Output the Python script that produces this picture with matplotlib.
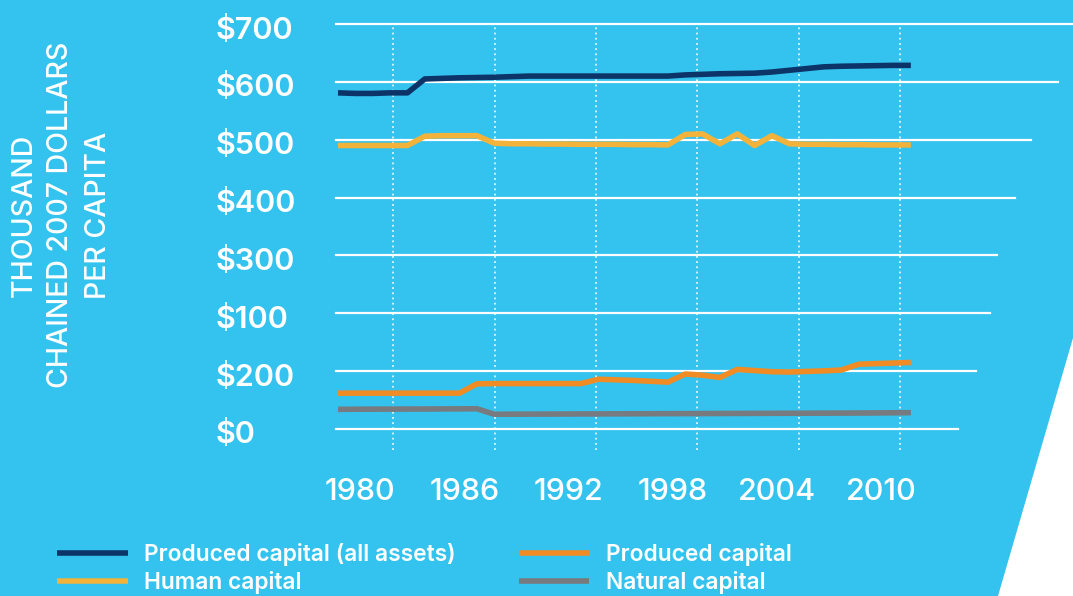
import matplotlib.pyplot as plt
import matplotlib.transforms as mtransforms
from matplotlib.patches import Polygon
import numpy as np

# data (thousand chained 2007 dollars per capita)
years = np.arange(1979, 2013)
all_assets = [581, 580, 580, 581, 581, 605, 606, 607, 607.5, 608, 609, 610,
              610, 610, 610, 610, 610, 610, 610, 610, 612, 613, 614, 614.5,
              615, 617, 620, 623, 626, 627, 627.5, 628, 628.5, 628.5]
human = [490, 490, 490, 490, 490, 506, 507, 507, 507, 494, 493, 493,
         492.5, 492.5, 492, 492, 492, 491.5, 491.5, 491, 509, 510, 493, 510,
         490, 507, 493, 492, 492, 491.5, 491.5, 491, 491, 491]
produced = [62, 62, 62, 62, 62, 62, 62, 62, 78, 78.5, 78.5, 78.5,
            78.5, 78.5, 78.5, 86, 85, 84, 82.5, 81, 95, 93, 89, 103,
            101, 99, 98.5, 99.5, 100.5, 102, 112, 113, 114, 115]
natural = [34, 34.2, 34.3, 34.4, 34.5, 34.6, 34.7, 34.8, 35, 25.5, 25.6, 25.7,
           25.8, 25.9, 26, 26.1, 26.2, 26.3, 26.4, 26.5, 26.6, 26.7, 26.8, 26.9,
           27, 27.1, 27.2, 27.3, 27.4, 27.5, 27.6, 27.8, 28, 28.2]

ytick_pos = [0, 100, 200, 300, 400, 500, 600, 700]
ytick_labels = ['$0', '$200', '$100', '$300', '$400', '$500', '$600', '$700']
xtick_years = [1980, 1986, 1992, 1998, 2004, 2010]

series = [
    ('Produced capital (all assets)', all_assets, '#0C3468'),
    ('Human capital', human, '#F3B23A'),
    ('Produced capital', produced, '#F18B23'),
    ('Natural capital', natural, '#777A7E'),
]

BG = '#33C3EE'
W, H = 1073, 596
plt.rcParams['font.family'] = ['Inter', 'DejaVu Sans']

fig = plt.figure(figsize=(W / 100, H / 100), dpi=100)
fig.patch.set_facecolor(BG)

# white cut in the bottom right corner
fig.add_artist(Polygon([[1.0, 1 - 338 / H], [998 / W, 0], [1.0, 0]],
                       closed=True, transform=fig.transFigure,
                       facecolor='white', edgecolor='none'))

ax = fig.add_axes([336 / W, (H - 450) / H, (W - 336) / W, 426 / H])
ax.set_facecolor('none')
ax.set_xlim(1978.885, 2021.34)
ax.set_ylim(-36.3, 700)
for s in ax.spines.values():
    s.set_visible(False)

# horizontal gridlines of shrinking length
grid_end_px = [958, 976, 990, 997, 1015, 1031, 1058, 1073]
for y, px in zip(ytick_pos, grid_end_px):
    ax.axhline(y, xmin=0, xmax=(px - 336) / (W - 336), color='white',
               lw=1.6, clip_on=False, zorder=1)

# dotted verticals
for xv in [1982.17, 1988.04, 1993.86, 1999.68, 2005.56, 2011.37]:
    ax.axvline(xv, color='white', lw=1.1, ls=(0, (1.2, 2.2)), zorder=1)

for name, vals, col in series:
    ax.plot(years, vals, color=col, lw=4, label=name, zorder=3,
            solid_capstyle='butt')

ax.set_yticks(ytick_pos)
ax.set_yticklabels(ytick_labels, ha='left')
ax.tick_params(axis='y', length=0, pad=87, labelsize=22, labelcolor='white')
shift = mtransforms.ScaledTranslation(0, -3 / 100, fig.dpi_scale_trans)
for t in ax.get_yticklabels():
    t.set_fontweight('semibold')
    t.set_transform(t.get_transform() + shift)

ax.set_xticks(xtick_years)
ax.set_xticklabels([str(y) for y in xtick_years])
ax.tick_params(axis='x', length=0, pad=20, labelsize=22, labelcolor='white')
xshift = mtransforms.ScaledTranslation(5 / 100, 0, fig.dpi_scale_trans)
for t in ax.get_xticklabels():
    t.set_fontweight('medium')
    t.set_transform(t.get_transform() + xshift)

# y axis title, three rotated lines
for xpx, txt in [(24, 'THOUSAND'), (61, 'CHAINED 2007 DOLLARS'), (99, 'PER CAPITA')]:
    fig.text(xpx / W, 1 - 215 / H, txt, rotation=90, ha='center', va='center',
             color='white', fontsize=20.5, fontweight='medium')

leg = fig.legend(loc='upper left', bbox_to_anchor=(57 / W, 1 - 543 / H),
                 ncol=2, frameon=False, fontsize=16.4, handlelength=3.1,
                 handletextpad=0.74, columnspacing=2.75, labelspacing=0.22,
                 borderpad=0, borderaxespad=0)
for t in leg.get_texts():
    t.set_color('white')
    t.set_fontweight('semibold')
for l in leg.get_lines():
    l.set_linewidth(4)

fig.savefig('out.png', dpi=100, facecolor=BG)
